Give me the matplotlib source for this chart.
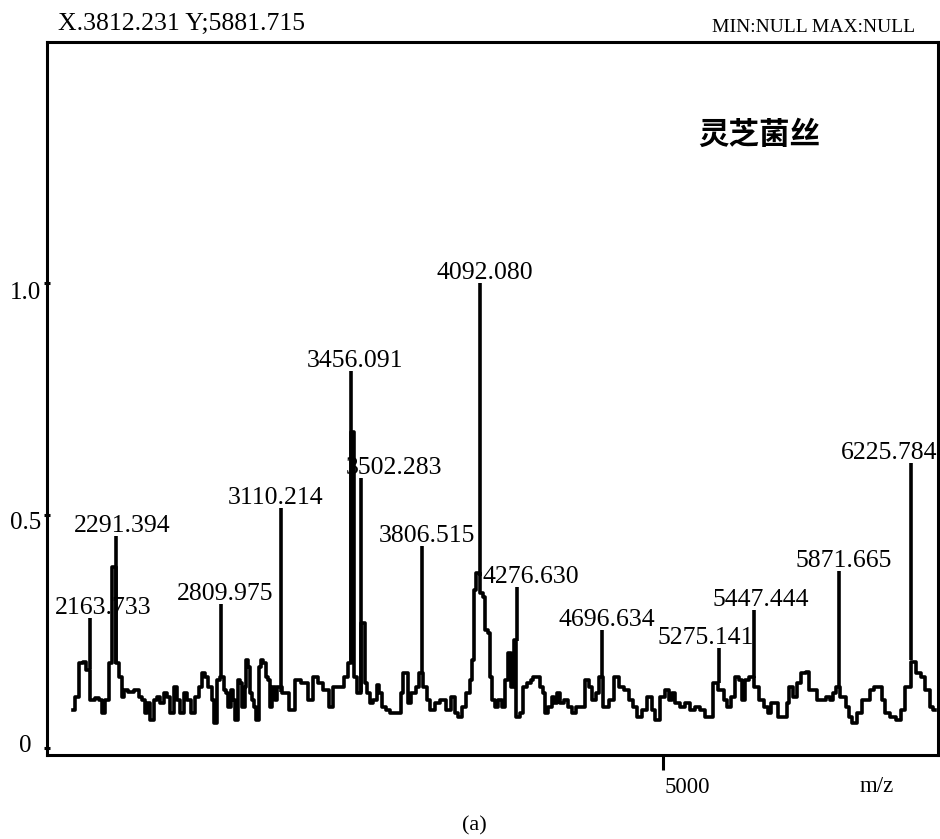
import matplotlib
matplotlib.use('Agg')
import matplotlib.pyplot as plt
import matplotlib.transforms as mtransforms

plt.rcParams['font.family'] = ['Liberation Serif', 'DejaVu Serif']

# labelled peaks (m/z, relative intensity, intensity at foot of the spike)
peak_mz = [2163.733, 2291.394, 2809.975, 3110.214, 3456.091, 3502.283, 3806.515,
           4092.080, 4276.630, 4696.634, 5275.141, 5447.444, 5871.665, 6225.784]
peak_int = [0.28, 0.456, 0.31, 0.516, 0.81, 0.58, 0.434,
            1.0, 0.346, 0.254, 0.215, 0.297, 0.38, 0.613]
peak_base = [0.17, 0.18, 0.15, 0.12, 0.18, 0.12, 0.16,
             0.37, 0.23, 0.15, 0.14, 0.15, 0.13, 0.19]

# baseline trace
trace_mz = [2077, 2097, 2122, 2139, 2147, 2181, 2198, 2215, 2230, 2249,
            2266, 2279, 2300, 2316, 2324, 2341, 2365, 2398, 2414, 2429,
            2439, 2453, 2471, 2488, 2502, 2521, 2537, 2551, 2569, 2586,
            2600, 2618, 2635, 2649, 2674, 2692, 2708, 2723, 2741, 2757,
            2772, 2782, 2797, 2818, 2831, 2842, 2853, 2865, 2877, 2887,
            2900, 2912, 2922, 2935, 2939, 2952, 2957, 2969, 2981, 2991,
            3004, 3016, 3026, 3039, 3050, 3056, 3068, 3085, 3095, 3131,
            3168, 3191, 3228, 3256, 3281, 3303, 3331, 3356, 3379, 3406,
            3431, 3446, 3464, 3478, 3488, 3517, 3527, 3545, 3551, 3576,
            3586, 3600, 3619, 3635, 3659, 3699, 3708, 3717, 3733, 3741,
            3766, 3782, 3797, 3821, 3839, 3856, 3880, 3913, 3937, 3962,
            3978, 3993, 4017, 4035, 4052, 4060, 4066, 4084, 4100, 4114,
            4124, 4138, 4147, 4162, 4171, 4195, 4209, 4226, 4242, 4256,
            4266, 4280, 4300, 4316, 4337, 4351, 4363, 4384, 4400, 4413,
            4421, 4441, 4455, 4468, 4483, 4497, 4518, 4539, 4560, 4581,
            4602, 4622, 4643, 4656, 4677, 4685, 4721, 4741, 4771, 4789,
            4819, 4841, 4861, 4879, 4910, 4932, 4952, 4970, 5000, 5019,
            5035, 5051, 5069, 5095, 5120, 5145, 5171, 5196, 5221, 5238,
            5253, 5288, 5311, 5325, 5348, 5365, 5381, 5395, 5412, 5435,
            5466, 5485, 5510, 5527, 5543, 5561, 5578, 5604, 5619, 5629,
            5654, 5670, 5695, 5714, 5731, 5756, 5771, 5797, 5816, 5832,
            5848, 5858, 5895, 5915, 5925, 5944, 5973, 5991, 6013, 6032,
            6050, 6071, 6091, 6108, 6138, 6167, 6189, 6208, 6244, 6261,
            6286, 6301, 6319, 6326, 6344]
trace_int = [0.082, 0.110, 0.183, 0.186, 0.168, 0.103, 0.108, 0.103, 0.075, 0.103,
             0.183, 0.389, 0.183, 0.153, 0.110, 0.125, 0.120, 0.125, 0.110, 0.103,
             0.075, 0.097, 0.060, 0.103, 0.110, 0.097, 0.118, 0.110, 0.075, 0.131,
             0.103, 0.075, 0.118, 0.103, 0.075, 0.110, 0.131, 0.161, 0.153, 0.131,
             0.103, 0.054, 0.146, 0.153, 0.125, 0.118, 0.088, 0.125, 0.103, 0.060,
             0.146, 0.140, 0.088, 0.131, 0.189, 0.174, 0.118, 0.103, 0.088, 0.060,
             0.174, 0.189, 0.183, 0.153, 0.146, 0.088, 0.131, 0.103, 0.131, 0.118,
             0.082, 0.146, 0.140, 0.103, 0.153, 0.140, 0.125, 0.088, 0.131, 0.131,
             0.153, 0.183, 0.680, 0.153, 0.118, 0.269, 0.140, 0.118, 0.097, 0.103,
             0.135, 0.118, 0.088, 0.082, 0.075, 0.075, 0.118, 0.161, 0.161, 0.097,
             0.118, 0.131, 0.161, 0.131, 0.103, 0.082, 0.097, 0.103, 0.082, 0.110,
             0.075, 0.067, 0.088, 0.118, 0.146, 0.189, 0.340, 0.376, 0.333, 0.325,
             0.254, 0.247, 0.153, 0.103, 0.088, 0.103, 0.088, 0.146, 0.204, 0.131,
             0.232, 0.067, 0.075, 0.131, 0.140, 0.146, 0.153, 0.153, 0.131, 0.118,
             0.075, 0.088, 0.110, 0.097, 0.118, 0.097, 0.103, 0.088, 0.075, 0.088,
             0.088, 0.146, 0.131, 0.103, 0.118, 0.153, 0.088, 0.103, 0.153, 0.131,
             0.125, 0.103, 0.088, 0.067, 0.082, 0.110, 0.082, 0.060, 0.110, 0.125,
             0.103, 0.118, 0.097, 0.088, 0.097, 0.082, 0.088, 0.082, 0.067, 0.067,
             0.140, 0.125, 0.103, 0.088, 0.110, 0.153, 0.146, 0.103, 0.146, 0.153,
             0.131, 0.103, 0.088, 0.075, 0.097, 0.097, 0.067, 0.067, 0.097, 0.131,
             0.110, 0.140, 0.161, 0.163, 0.125, 0.125, 0.103, 0.103, 0.110, 0.103,
             0.118, 0.131, 0.110, 0.088, 0.067, 0.054, 0.075, 0.103, 0.103, 0.125,
             0.131, 0.131, 0.103, 0.075, 0.067, 0.060, 0.082, 0.131, 0.185, 0.161,
             0.153, 0.125, 0.125, 0.088, 0.082]

xtick_vals = [5000]
ytick_vals = [0, 0.5, 1.0]
ytick_labels = ['0', '0.5', '1.0']

# nudges of the peak labels, in pixels (label centre relative to spike)
label_dx = [13, 6, 4, -6, 4, 33, 5, 5, 14, 5, -13, 7, 4, -22]
# nudges of the y tick labels, in pixels
ylab_shift = [(-10, 5), (0, -5), (0, -8)]

fig = plt.figure(figsize=(9.4, 8.39), dpi=100)
ax = fig.add_axes([47/940, 84/839, 891/940, 713/839])
ax.set_xlim(1950, 6360)
ax.set_ylim(-0.015, 1.518)

ax.plot(trace_mz, trace_int, color='k', lw=2.6, drawstyle='steps-mid')
ax.vlines(peak_mz, peak_base, peak_int, color='k', lw=2.6)

for mz, top, dx in zip(peak_mz, peak_int, label_dx):
    ax.annotate(f'{mz:.3f}', xy=(mz, top), xytext=(dx, 4), textcoords='offset pixels',
                ha='center', va='baseline', fontsize=18.5)

for s in ax.spines.values():
    s.set_linewidth(2.2)

ax.set_xticks(xtick_vals)
ax.set_xticklabels([str(v) for v in xtick_vals])
ax.tick_params(axis='x', direction='out', length=11, width=2.2, labelsize=16.5, pad=5)
shift = mtransforms.ScaledTranslation(24/100, 0, fig.dpi_scale_trans)
for lab in ax.get_xticklabels():
    lab.set_transform(lab.get_transform() + shift)

ax.set_yticks(ytick_vals)
ax.set_yticklabels(ytick_labels)
ax.tick_params(axis='y', direction='inout', length=4, width=2.2, labelsize=18, pad=2)
for lab, (sx, sy) in zip(ax.get_yticklabels(), ylab_shift):
    lab.set_transform(lab.get_transform() +
                      mtransforms.ScaledTranslation(sx/100, sy/100, fig.dpi_scale_trans))

fig.text(58/940, 1-24/839, 'X.3812.231 Y;5881.715', ha='left', va='center', fontsize=18.5)
fig.text(915/940, 1-27/839, 'MIN:NULL MAX:NULL', ha='right', va='center', fontsize=14)
fig.text(759/940, 1-135/839, '灵芝菌丝', ha='center', va='center', fontsize=22,
         family=['Noto Sans CJK SC', 'DejaVu Sans'], fontweight='bold')
fig.text(877/940, 1-787/839, 'm/z', ha='center', va='center', fontsize=16.5)
fig.text(474/940, 1-826/839, '(a)', ha='center', va='center', fontsize=16)

fig.savefig('out.png', dpi=100)
plt.close()
